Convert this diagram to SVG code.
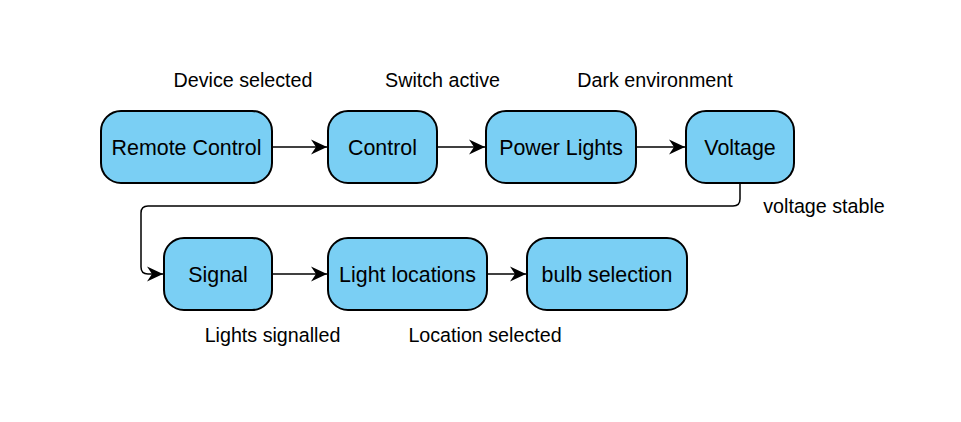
<svg xmlns="http://www.w3.org/2000/svg" width="961" height="422" viewBox="0 0 961 422">
<style>
.node rect{fill:#7ACFF4;stroke:#000;stroke-width:2}
.node text{font-family:"Liberation Sans",Arial,sans-serif;font-size:21.4px;fill:#000;text-anchor:middle}
.lbl{font-family:"Liberation Sans",Arial,sans-serif;font-size:19.7px;fill:#000;text-anchor:middle}
.edge{fill:none;stroke:#000;stroke-width:1.5;marker-end:url(#arr)}
</style>
<defs>
<marker id="arr" markerUnits="userSpaceOnUse" viewBox="0 0 16 16" refX="16" refY="8" markerWidth="16" markerHeight="16" orient="auto">
<path d="M0,0.5 L16,8 L0,15.5 L5,8 Z" fill="#000"/>
</marker>
</defs>
<rect width="961" height="422" fill="#fff"/>
<g id="connectors">
<path class="edge" d="M272,147 H327"/>
<path class="edge" d="M437,147 H485"/>
<path class="edge" d="M636,147 H685"/>
<path class="edge" d="M740,183 V199 Q740,206 733,206 H148 Q141,206 141,213 V267 Q141,274 148,274 H163"/>
<path class="edge" d="M272,274 H327"/>
<path class="edge" d="M487,274 H526"/>
</g>
<g id="labels">
<text class="lbl" x="243" y="86.5">Device selected</text>
<text class="lbl" x="442.5" y="86.5">Switch active</text>
<text class="lbl" x="655" y="86.5">Dark environment</text>
<text class="lbl" x="824" y="213">voltage stable</text>
<text class="lbl" x="272.5" y="341.5">Lights signalled</text>
<text class="lbl" x="485" y="341.5">Location selected</text>
</g>
<g id="node-remote-control" class="node"><rect x="101" y="111" width="171" height="72" rx="20"/><text x="186.5" y="154.7">Remote Control</text></g>
<g id="node-control" class="node"><rect x="328" y="111" width="109" height="72" rx="20"/><text x="382.5" y="154.7">Control</text></g>
<g id="node-power-lights" class="node"><rect x="486" y="111" width="150" height="72" rx="20"/><text x="561" y="154.7">Power Lights</text></g>
<g id="node-voltage" class="node"><rect x="686" y="111" width="108" height="72" rx="20"/><text x="740" y="154.7">Voltage</text></g>
<g id="node-signal" class="node"><rect x="164" y="238" width="108" height="72" rx="20"/><text x="218" y="281.7">Signal</text></g>
<g id="node-light-locations" class="node"><rect x="328" y="238" width="159" height="72" rx="20"/><text x="407.5" y="281.7">Light locations</text></g>
<g id="node-bulb-selection" class="node"><rect x="527" y="238" width="160" height="72" rx="20"/><text x="607" y="281.7">bulb selection</text></g>
</svg>
